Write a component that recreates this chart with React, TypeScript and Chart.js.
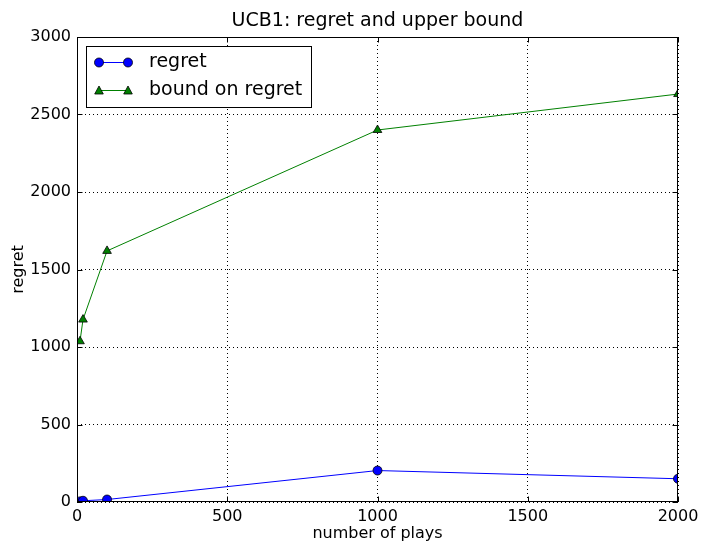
import React, { useEffect, useRef } from "react";
import { Chart, registerables } from "chart.js";

Chart.register(...registerables);

const plays = [10, 20, 100, 1000, 2000];
const regret = [4, 8, 16, 203, 150];
const bound = [1037, 1177, 1620, 2400, 2632];
const xTicks = [0, 500, 1000, 1500, 2000];
const yTicks = [0, 500, 1000, 1500, 2000, 2500, 3000];
const seriesNames = ["regret", "bound on regret"];

const BLUE = "#0000ff";
const GREEN = "#008000";
const FONT = "'DejaVu Sans', sans-serif";

const framePlugin = {
  id: "frame",
  afterDatasetsDraw(chart: any) {
    const { ctx, chartArea: a, scales } = chart;
    const L = Math.round(a.left) + 0.5;
    const R = Math.round(a.right) - 0.5;
    const T = Math.round(a.top) + 0.5;
    const B = Math.round(a.bottom) - 0.5;
    ctx.save();
    ctx.strokeStyle = "#000";
    ctx.lineWidth = 1;
    ctx.setLineDash([]);
    ctx.strokeRect(L, T, R - L, B - T);
    const tl = 5;
    ctx.beginPath();
    for (const v of xTicks) {
      const x = Math.round(scales.x.getPixelForValue(v)) + 0.5;
      ctx.moveTo(x, B);
      ctx.lineTo(x, B - tl);
      ctx.moveTo(x, T);
      ctx.lineTo(x, T + tl);
    }
    for (const v of yTicks) {
      const y = Math.round(scales.y.getPixelForValue(v)) + 0.5;
      ctx.moveTo(L, y);
      ctx.lineTo(L + tl, y);
      ctx.moveTo(R, y);
      ctx.lineTo(R - tl, y);
    }
    ctx.stroke();

    // legend
    const bx = 86.5, by = 46.5, bw = 225, bh = 61;
    ctx.fillStyle = "#fff";
    ctx.fillRect(bx, by, bw, bh);
    ctx.strokeRect(bx, by, bw, bh);
    const rows = [
      { y: 62.5, color: BLUE, style: "circle", name: seriesNames[0] },
      { y: 90.5, color: GREEN, style: "triangle", name: seriesNames[1] },
    ];
    for (const r of rows) {
      ctx.beginPath();
      ctx.strokeStyle = r.color;
      ctx.lineWidth = 1;
      ctx.moveTo(99, r.y);
      ctx.lineTo(128, r.y);
      ctx.stroke();
      for (const mx of [99, 128]) {
        ctx.beginPath();
        if (r.style === "circle") {
          ctx.arc(mx, r.y, 4.5, 0, Math.PI * 2);
        } else {
          ctx.moveTo(mx, r.y - 4.5);
          ctx.lineTo(mx + 4.3, r.y + 3.5);
          ctx.lineTo(mx - 4.3, r.y + 3.5);
          ctx.closePath();
        }
        ctx.fillStyle = r.color;
        ctx.fill();
        ctx.strokeStyle = "#000";
        ctx.lineWidth = 0.8;
        ctx.stroke();
      }
      ctx.fillStyle = "#000";
      ctx.font = "19px " + FONT;
      ctx.textBaseline = "middle";
      ctx.textAlign = "left";
      ctx.fillText(r.name, 149, r.y);
    }
    ctx.restore();
  },
};

export default function App() {
  const ref = useRef<HTMLCanvasElement>(null);
  useEffect(() => {
    if (!ref.current) return;
    Chart.defaults.font.family = FONT;
    Chart.defaults.color = "#000";
    const chart = new Chart(ref.current, {
      type: "line",
      data: {
        datasets: [
          {
            label: seriesNames[0],
            data: plays.map((p, i) => ({ x: p, y: regret[i] })),
            borderColor: BLUE,
            borderWidth: 1,
            backgroundColor: BLUE,
            pointBackgroundColor: BLUE,
            pointBorderColor: "#000",
            pointBorderWidth: 0.8,
            pointRadius: 4.5,
            pointStyle: "circle",
            tension: 0,
            clip: 0,
          },
          {
            label: seriesNames[1],
            data: plays.map((p, i) => ({ x: p, y: bound[i] })),
            borderColor: GREEN,
            borderWidth: 1,
            backgroundColor: GREEN,
            pointBackgroundColor: GREEN,
            pointBorderColor: "#000",
            pointBorderWidth: 0.8,
            pointRadius: 5,
            pointStyle: "triangle",
            tension: 0,
            clip: 0,
          },
        ],
      },
      options: {
        animation: false,
        responsive: false,
        devicePixelRatio: 1,
        layout: { padding: { left: 0, right: 26, top: 0, bottom: 0 } },
        plugins: {
          legend: { display: false },
          tooltip: { enabled: false },
          title: {
            display: true,
            fullSize: false,
            text: "UCB1: regret and upper bound",
            font: { size: 19, weight: "normal", family: FONT, lineHeight: 1.2 },
            color: "#000",
            padding: { top: 10, bottom: 4.2 },
          },
        },
        scales: {
          x: {
            type: "linear",
            min: 0,
            max: 2000,
            afterBuildTicks: (s: any) => {
              s.ticks = xTicks.map((v) => ({ value: v }));
            },
            afterFit: (s: any) => {
              s.height = 43;
            },
            ticks: {
              font: { size: 16, family: FONT },
              color: "#000",
              padding: 5,
              maxRotation: 0,
              callback: (v: any) => String(v),
            },
            grid: {
              color: "#000",
              lineWidth: 1,
              drawTicks: false,
              tickLength: 0,
            },
            border: { display: false, dash: [1, 3] },
            title: {
              display: true,
              text: "number of plays",
              font: { size: 16, family: FONT, lineHeight: 1.2 },
              color: "#000",
              padding: { top: 0, bottom: 2 },
            },
          },
          y: {
            type: "linear",
            min: 0,
            max: 3000,
            afterBuildTicks: (s: any) => {
              s.ticks = yTicks.map((v) => ({ value: v }));
            },
            afterFit: (s: any) => {
              s.width = 77;
            },
            ticks: {
              font: { size: 16, family: FONT },
              color: "#000",
              padding: 6,
              callback: (v: any) => String(v),
            },
            grid: {
              color: "#000",
              lineWidth: 1,
              drawTicks: false,
              tickLength: 0,
            },
            border: { display: false, dash: [1, 3] },
            title: {
              display: true,
              text: "regret",
              font: { size: 16, family: FONT, lineHeight: 1.2 },
              color: "#000",
              padding: { top: 9, bottom: 0 },
            },
          },
        },
      },
      plugins: [framePlugin],
    } as any);
    return () => chart.destroy();
  }, []);
  return (
    <div style={{ position: "fixed", left: 0, top: 0, width: 704, height: 545, background: "#fff" }}>
      <canvas ref={ref} width={704} height={545} style={{ width: 704, height: 545, display: "block" }} />
    </div>
  );
}
